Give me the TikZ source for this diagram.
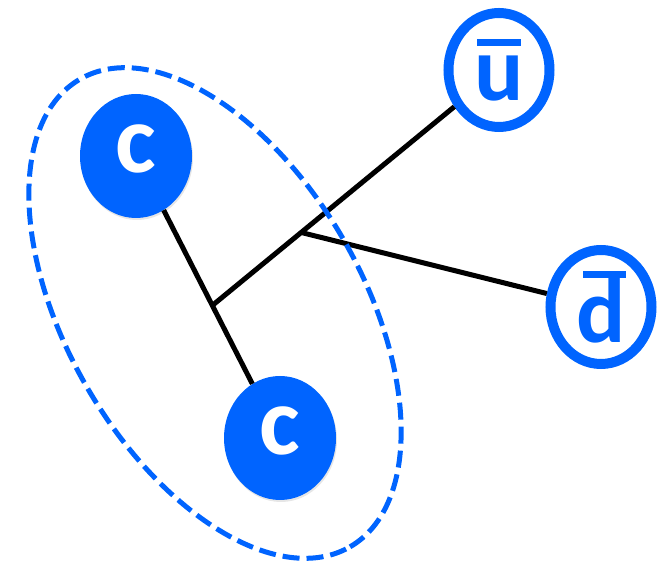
\documentclass[tikz,border=0pt]{standalone}
\usepackage{fontspec}
\setmainfont{Carlito}
\usetikzlibrary{positioning,shapes.geometric,calc,shadows}

\definecolor{quarkblue}{RGB}{0,100,255}

% bar over an antiquark letter: gap under the bar, shift of the bar, letter
\newcommand\qbar[3]{\leavevmode\vbox{\offinterlineskip
  \halign{\hfil##\hfil\cr\hspace*{#2}\rule{0.47em}{0.08em}\cr\noalign{\kern#1}#3\cr}}}

\begin{document}
\begin{tikzpicture}[
  x=1pt, y=1pt,
  quark/.style={ellipse, fill=quarkblue, inner sep=0pt, minimum width=112pt, minimum height=124pt,
    text=white, font=\fontsize{97}{97}\selectfont\bfseries, text depth=15pt,
    drop shadow={opacity=0.2, shadow xshift=1pt, shadow yshift=-2pt}},
  antiquark/.style={ellipse, draw=quarkblue, line width=10pt, fill=white, inner sep=0pt,
    minimum width=101pt, minimum height=114pt,
    text=quarkblue, font=\fontsize{92}{92}\selectfont\bfseries,
    drop shadow={opacity=0.2, shadow xshift=1pt, shadow yshift=-2pt}},
  gluon/.style={line width=5pt, black},
  diquark/.style={quarkblue, line width=5pt, dash pattern=on 17pt off 7pt}
]
\useasboundingbox (0,0) rectangle (662,562);

\node[quark] (c1) at (136,406) {c};
\node[quark] (c2) at (280,124) {c};
\node[antiquark] (ubar) at (499,492) {\qbar{0.1em}{0pt}{u}};
\node[antiquark] (dbar) at (601,255) {\qbar{0pt}{0.08em}{d}};

\coordinate (j1) at ($(c1)!0.53!(c2)$);
\coordinate (j2) at ($(j1)!0.31!(ubar)$);
\coordinate (pair) at (215,249);

\draw[gluon] (c1) -- (c2);
\draw[gluon] (j1) -- (ubar);
\draw[gluon] (j2) -- (dbar);

% dashed ellipse round the c c pair
\draw[diquark, rotate around={-60:(pair)}] (pair) ellipse [x radius=270, y radius=148];
\end{tikzpicture}
\end{document}
